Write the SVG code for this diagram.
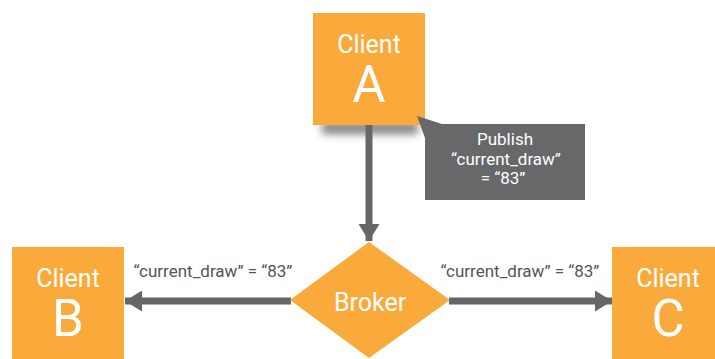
<svg xmlns="http://www.w3.org/2000/svg" width="715" height="359" viewBox="0 0 715 359">
  <defs>
    <style>
      .box { fill: #F9AA3B; }
      .name { font-family: Roboto, "Liberation Sans", sans-serif; fill: #ffffff; text-anchor: middle; }
      .small { font-size: 25px; }
      .big { font-size: 51px; }
      .lbl { font-family: Roboto, "Liberation Sans", sans-serif; font-size: 17px; fill: #555555; text-anchor: middle; }
      .callout-text { font-family: Roboto, "Liberation Sans", sans-serif; font-size: 17px; fill: #ffffff; text-anchor: middle; }
      .wire { stroke: #666666; stroke-width: 7; fill: none; }
    </style>
    <marker id="head" viewBox="0 0 17 21" refX="17" refY="10.5" markerWidth="17" markerHeight="21" markerUnits="userSpaceOnUse" orient="auto">
      <path d="M0,0 L17,10.5 L0,21 Z" fill="#666666"/>
    </marker>
    <filter id="soft" x="-30%" y="-100%" width="160%" height="300%">
      <feGaussianBlur stdDeviation="4"/>
    </filter>
  </defs>

  <rect width="715" height="359" fill="#ffffff"/>

  <!-- drop shadow under the publisher box -->
  <rect x="322" y="122" width="96" height="12" fill="#555555" opacity="0.75" filter="url(#soft)"/>

  <g id="connectors">
    <line class="wire" x1="369" y1="125" x2="369" y2="241" marker-end="url(#head)"/>
    <line class="wire" x1="291" y1="301" x2="125" y2="301" marker-end="url(#head)"/>
    <line class="wire" x1="449" y1="301" x2="612" y2="301" marker-end="url(#head)"/>
    <text class="lbl" x="213" y="277">“current_draw” = “83”</text>
    <text class="lbl" x="520" y="277">“current_draw” = “83”</text>
  </g>

  <g id="client-a">
    <rect class="box" x="313" y="13" width="112" height="112"/>
    <text class="name small" x="369" y="53">Client</text>
    <text class="name big" x="369" y="102">A</text>
  </g>

  <g id="publish-callout">
    <path d="M417,116 L442,124 L585,124 L585,200 L425,200 L425,138 Z" fill="#67686A"/>
    <text class="callout-text" x="505" y="145">Publish</text>
    <text class="callout-text" x="506" y="165">“current_draw”</text>
    <text class="callout-text" x="503" y="184">=  “83”</text>
  </g>

  <g id="broker">
    <path class="box" d="M369,242 L450,300 L369,358 L290,300 Z"/>
    <text class="name small" x="370" y="311">Broker</text>
  </g>

  <g id="client-b">
    <rect class="box" x="12" y="247" width="112" height="120"/>
    <text class="name small" x="68" y="287">Client</text>
    <text class="name big" x="68" y="336">B</text>
  </g>

  <g id="client-c">
    <rect class="box" x="612" y="247" width="112" height="120"/>
    <text class="name small" x="668" y="287">Client</text>
    <text class="name big" x="668" y="336">C</text>
  </g>
</svg>
